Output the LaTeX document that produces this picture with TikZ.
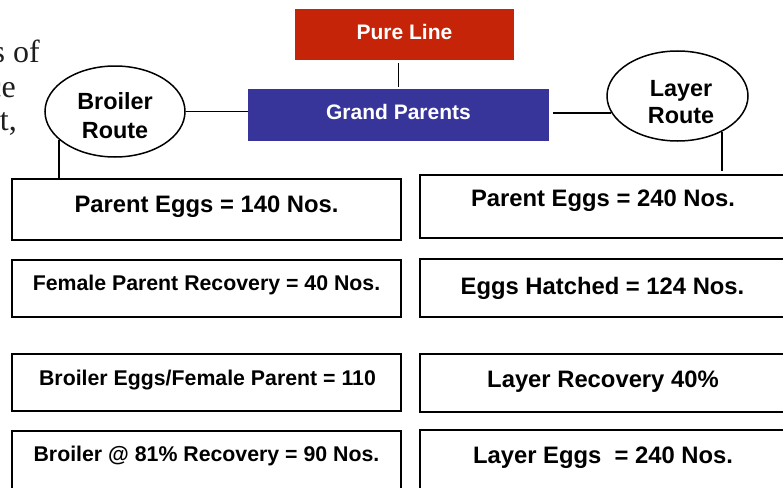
\documentclass[tikz,border=0pt]{standalone}
\usepackage{fontspec}
\setmainfont{Liberation Sans}
\newfontfamily\serifx{Liberation Serif}
\usetikzlibrary{shapes.geometric}
\definecolor{purered}{HTML}{C62408}
\definecolor{gpblue}{HTML}{37349A}
\definecolor{frag}{HTML}{1E1E1E}
\tikzset{
  databox/.style={draw=black, line width=1.8pt, fill=white, rectangle, inner sep=0pt},
  route/.style={draw=black, line width=1.5pt, ellipse, inner sep=0pt, fill=white},
  conn/.style={draw=black, line width=1.5pt},
  bigtxt/.style={font=\bfseries\fontsize{23.8}{28}\selectfont, anchor=base, inner sep=0pt},
  smalltxt/.style={font=\bfseries\fontsize{21.3}{25}\selectfont, anchor=base, inner sep=0pt},
  headtxt/.style={font=\bfseries\fontsize{21}{25}\selectfont, anchor=base, inner sep=0pt, text=white},
  routetxt/.style={font=\bfseries\fontsize{23.4}{28}\selectfont, anchor=base, inner sep=0pt},
  fragtxt/.style={font=\serifx\fontsize{32}{36}\selectfont, anchor=base east, inner sep=0pt, text=frag}
}
\begin{document}
\begin{tikzpicture}[x=1pt,y=-1pt]
\useasboundingbox (0,0) rectangle (783,487);
\clip (0,0) rectangle (783,487);
\fill[white] (0,0) rectangle (783,487);

% text fragments from the page behind
\node[fragtxt] (f1) at (40,62) {s of};
\node[fragtxt] (f2) at (16,97) {ce};
\node[fragtxt] (f3) at (17,130) {ft,};

% top boxes
\node[rectangle, fill=purered, minimum width=219pt, minimum height=51pt, inner sep=0pt] (pl) at (404.5,34.5) {};
\node[headtxt] (plt) at (404.5,40) {Pure Line};
\node[rectangle, fill=gpblue, minimum width=301pt, minimum height=52pt, inner sep=0pt] (gp) at (398.5,115) {};
\node[headtxt] (gpt) at (398.5,119) {Grand Parents};

% route ellipses
\node[route, minimum width=140pt, minimum height=91pt] (br) at (115,111.5) {};
\node[routetxt] (brt1) at (115,109) {Broiler};
\node[routetxt] (brt2) at (115,138) {Route};
\node[route, minimum width=141pt, minimum height=90pt] (lr) at (677.5,96) {};
\node[routetxt] (lrt1) at (681,96) {Layer};
\node[routetxt] (lrt2) at (681,123) {Route};

% left column boxes
\node[databox, minimum width=389pt, minimum height=61pt] (lb1) at (206.5,209.5) {};
\node[bigtxt] (lt1) at (206.5,212) {Parent Eggs = 140 Nos.};
\node[databox, minimum width=389pt, minimum height=57pt] (lb2) at (206.5,288.5) {};
\node[smalltxt] (lt2) at (206.5,290.5) {Female Parent Recovery = 40 Nos.};
\node[databox, minimum width=389pt, minimum height=57pt] (lb3) at (206.5,382.5) {};
\node[smalltxt] (lt3) at (207.5,385) {Broiler Eggs/Female Parent = 110};
\node[databox, minimum width=389pt, minimum height=68pt] (lb4) at (206.5,465) {};
\node[smalltxt] (lt4) at (206.5,461.5) {Broiler @ 81\% Recovery = 90 Nos.};

% right column boxes
\node[databox, minimum width=380pt, minimum height=63pt] (rb1) at (610,206.5) {};
\node[bigtxt] (rt1) at (603,206) {Parent Eggs = 240 Nos.};
\node[databox, minimum width=380pt, minimum height=58pt] (rb2) at (610,288) {};
\node[bigtxt] (rt2) at (602.5,294) {Eggs Hatched = 124 Nos.};
\node[databox, minimum width=380pt, minimum height=58pt] (rb3) at (610,383) {};
\node[bigtxt] (rt3) at (603,387) {Layer Recovery 40\%};
\node[databox, minimum width=380pt, minimum height=68pt] (rb4) at (610,464) {};
\node[bigtxt] (rt4) at (603,463) {Layer Eggs\ \ = 240 Nos.};

% connectors
\draw[conn, shorten <=3pt, shorten >=2pt] (gp.north |- pl.south) -- (gp.north);
\draw[conn] (br.east) -- (br.east -| gp.west);
\draw[conn, shorten <=4pt, shorten >=-5pt] (gp.east |- 0,113) -- (lr.west |- 0,113);
\draw[conn] (br.207) -- (br.207 |- lb1.north);
\draw[conn, shorten >=3pt] (lr.321) -- (lr.321 |- rb1.north);
\end{tikzpicture}
\end{document}
